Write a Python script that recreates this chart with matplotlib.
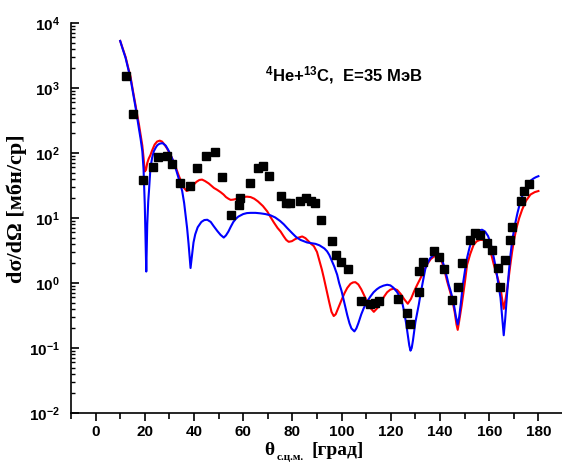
import math
import matplotlib
matplotlib.use("Agg")
import matplotlib.pyplot as plt
from matplotlib.ticker import LogLocator, MultipleLocator, NullFormatter, FuncFormatter

# experimental points (theta c.m., mb/sr)
exp_theta = [12.2, 15.3, 19.1, 23.2, 25.5, 29.1, 30.9, 34.3, 38.3, 41.3, 45.0, 48.4,
             51.2, 55.1, 58.2, 58.9, 62.6, 66.0, 68.1, 70.6, 75.4, 77.6, 79.2, 83.0,
             85.7, 87.4, 89.3, 91.7, 95.9, 97.8, 99.8, 102.4, 107.7, 111.7, 113.4, 115.3,
             122.8, 126.4, 128.0, 131.4, 131.5, 133.2, 137.5, 139.6, 141.5, 144.8, 147.2,
             149.0, 152.1, 154.4, 156.4, 158.9, 161.2, 163.5, 164.3, 166.6, 168.6, 169.3,
             173.0, 174.3, 176.1]
exp_sigma = [1550, 398, 39, 60, 86, 89, 68, 34, 31, 59, 90, 103,
             43, 11, 15.7, 20, 35, 59, 64, 45, 21.6, 17, 17, 18.5,
             20, 18.5, 17, 9.3, 4.5, 2.67, 2.1, 1.62, 0.52, 0.475, 0.49, 0.52,
             0.57, 0.34, 0.23, 0.73, 1.55, 2.1, 3.07, 2.54, 1.62, 0.55, 0.88,
             2.0, 4.6, 5.9, 5.5, 4.1, 3.25, 1.7, 0.86, 2.28, 4.6, 7.3,
             18.5, 25.8, 33]

# blue calculation
blue_theta = [10, 11, 12.2, 13.2, 14.2, 15.2, 16.3, 17, 17.6, 18.3, 19, 19.5, 20, 20.3, 20.6,
              21, 21.4, 21.7, 22.3, 23, 23.7, 24.5, 25.1, 26, 27.2, 28.5, 29.5, 30.5, 31.5,
              32.5, 34, 35.2, 36, 36.6, 37.2, 37.8, 38.6, 39.2, 39.8, 40.5, 41.5, 43, 44.2,
              45.4, 46.8, 48, 49.5, 50.8, 52.1, 53, 54, 55, 56, 57, 58, 60, 61.5, 63, 65, 67,
              69, 71.1, 73, 75, 76.5, 77.9, 80, 81.5, 83.3, 86, 89.4, 91, 92, 93, 94.1, 95,
              96, 97, 98.2, 99, 100, 101, 102.3, 103.2, 104, 105.2, 106, 106.8, 108, 109,
              110.4, 111.7, 113, 114.3, 115.5, 117, 118.5, 119.8, 121, 122.5, 123.9, 124.8,
              125.5, 126.3, 127, 127.5, 128, 128.5, 129, 129.5, 130, 130.7, 131.4, 132.1,
              132.8, 133.5, 134.1, 135, 136, 137.4, 138.8, 140.2, 141.5, 142.9, 143.5, 144.2,
              145, 145.8, 146.5, 147.2, 147.8, 148.5, 149.3, 150.2, 151, 152, 153, 153.7,
              154.5, 155.5, 157.1, 158.3, 159.5, 160.5, 161.2, 161.9, 162.7, 163.5, 164.1,
              164.6, 165.2, 165.9, 166.5, 167, 167.5, 168, 168.6, 169.3, 170.5, 171.5,
              172.7, 173.5, 174.5, 176.1, 177, 178, 179, 180]
blue_sigma = [5300, 4000, 2900, 2000, 1400, 850, 490, 330, 240, 165, 107, 56, 16, 5, 1.5,
              8, 18, 26, 59, 85, 107, 122, 132, 139, 142, 130, 112, 93, 76,
              59, 38, 26, 17, 11, 7, 4.0, 1.7, 2.7, 4.2, 5.6, 7.2, 8.7, 9.3,
              9.4, 8.7, 7.5, 6.3, 5.5, 5.0, 5.4, 6.2, 7.4, 8.7, 9.7, 10.5, 11.5, 11.9, 12, 12, 11.8,
              11.5, 11, 10.2, 9, 8, 7.0, 5.8, 5.1, 4.6, 4.2, 4.0, 3.8, 3.6, 3.4, 3.07, 2.7,
              2.2, 1.8, 1.34, 1.0, 0.75, 0.52, 0.32, 0.24, 0.2, 0.18, 0.2, 0.24, 0.33, 0.41,
              0.52, 0.62, 0.72, 0.8, 0.86, 0.91, 0.94, 0.92, 0.85, 0.73, 0.59, 0.47,
              0.35, 0.23, 0.15, 0.11, 0.091, 0.1, 0.13, 0.18, 0.25, 0.34, 0.47, 0.68,
              0.95, 1.3, 1.7, 2.05, 2.4, 2.7, 2.8, 2.72, 1.9, 1.19, 0.95, 0.78,
              0.6, 0.43, 0.3, 0.23, 0.3, 0.5, 0.95, 1.6, 2.43, 3.5, 4.7, 5.5,
              6.0, 6.4, 6.6, 6.2, 5.3, 4.2, 3.2, 2.43, 1.7, 1.1, 0.78,
              0.59, 0.32, 0.157, 0.28, 0.5, 0.9, 1.5, 2.6, 4.4, 8, 12,
              18, 22, 27, 35, 38, 40.5, 42.5, 44]

# red calculation
red_theta = [10, 11, 12.2, 13.2, 14.2, 15.2, 16.3, 17, 17.6, 18.3, 19, 19.5, 20, 20.5, 21,
             21.6, 22.3, 23, 24, 25, 26.1, 27, 28, 29, 30.5, 31.5, 32.5, 33.8, 35, 36, 37,
             38, 39, 40, 41, 42.2, 43.3, 44.5, 46, 48.1, 49.5, 50.8, 52, 53, 54, 54.9, 56,
             58, 60, 61.5, 63, 64.5, 66, 68, 69.8, 71, 72.5, 74, 75.2, 76.5, 77.5, 78.5,
             79.8, 81, 82.5, 84, 85.3, 86.5, 87.6, 88.7, 90, 91, 92, 92.8, 93.8, 95, 95.9,
             96.8, 97.6, 98.5, 100, 101.2, 102.3, 103.6, 104.6, 105.6, 106.8, 108, 109.3,
             110.5, 111.8, 113.1, 114.5, 116, 117.3, 118.5, 119.8, 121.2, 122.6, 124, 125.5,
             126.9, 128.2, 129.5, 130.8, 132.1, 133.5, 135, 136.3, 137.7, 139, 140.2, 141.5,
             142.9, 144, 145, 146, 146.7, 147.2, 147.8, 148.8, 150, 151, 152.3, 153.7, 155,
             156.3, 157.5, 158.5, 159.5, 160.7, 161.9, 163.3, 164.6, 165.3, 165.9, 166.6,
             167.5, 168.5, 169.3, 170, 171, 172.2, 173.4, 175, 176.8, 178.5, 180]
red_sigma = [5300, 4100, 3000, 2100, 1500, 900, 530, 370, 280, 190, 130, 85, 52, 55, 70,
             82, 93, 110, 135, 150, 155, 150, 135, 118, 93, 76, 62, 45, 35, 29, 26,
             27, 30, 33, 36, 38.5, 39, 37, 34, 29, 27, 25, 23, 21, 19.8, 19, 19.2,
             20, 21, 21.3, 21, 19.8, 18, 15.3, 12.6, 10.5, 8.5, 7, 6.2, 5.2, 4.6, 4.3,
             4.4, 4.7, 5.0, 5.2, 4.9, 4.4, 4.0, 3.7, 3.0, 2.2, 1.6, 1.19, 0.8, 0.5, 0.36,
             0.31, 0.33, 0.4, 0.55, 0.7, 0.84, 0.97, 1.02, 1.03, 0.95, 0.8, 0.63,
             0.5, 0.41, 0.36, 0.41, 0.5, 0.62, 0.72, 0.79, 0.82, 0.78, 0.68, 0.56,
             0.48, 0.57, 0.75, 0.95, 1.19, 1.55, 2.0, 2.35, 2.57, 2.6, 2.43, 1.75,
             1.06, 0.76, 0.55, 0.35, 0.23, 0.19, 0.26, 0.45, 0.95, 1.9, 2.8, 3.9, 4.4,
             4.6, 4.6, 4.3, 3.8, 2.9, 1.9, 1.25, 0.84, 0.55, 0.40, 0.55,
             0.9, 1.8, 3.0, 4.4, 6.8, 10, 13.5, 18.5, 23, 25, 26]

plt.rcParams['mathtext.fontset'] = 'custom'
plt.rcParams['mathtext.rm'] = 'Liberation Sans:bold'
plt.rcParams['mathtext.bf'] = 'Liberation Sans:bold'
plt.rcParams['mathtext.it'] = 'Liberation Sans:bold'

fig = plt.figure(figsize=(5.62, 4.63), dpi=100)
ax = fig.add_axes([0.1263, 0.108, 0.8755, 0.8423])

ax.plot(red_theta, red_sigma, color='#ff0000', lw=1.5, zorder=2)
ax.plot(blue_theta, blue_sigma, color='#0000ff', lw=1.5, zorder=3)
ax.plot(exp_theta, exp_sigma, 's', color='black', ms=6, zorder=4)

ax.set_yscale('log')
ax.set_xlim(-10, 190)
ax.set_ylim(1e-2, 1e4)

ax.spines['top'].set_visible(False)
ax.spines['right'].set_visible(False)
ax.spines['left'].set_linewidth(1.2)
ax.spines['bottom'].set_linewidth(1.2)

ax.xaxis.set_major_locator(MultipleLocator(20))
ax.xaxis.set_minor_locator(MultipleLocator(10))
ax.yaxis.set_major_locator(LogLocator(base=10, numticks=10))
ax.yaxis.set_minor_locator(LogLocator(base=10, subs=range(2, 10), numticks=10))
ax.yaxis.set_minor_formatter(NullFormatter())
ax.yaxis.set_major_formatter(FuncFormatter(lambda v, p: r'10$^{%d}$' % round(math.log10(v))))

ax.tick_params(axis='x', which='major', direction='out', length=6, width=1.2, pad=3)
ax.tick_params(axis='x', which='minor', direction='out', length=4, width=1.2)
ax.tick_params(axis='y', which='major', direction='in', length=6, width=1.2, pad=8)
ax.tick_params(axis='y', which='minor', direction='in', length=3, width=1)
for lab in ax.get_xticklabels():
    lab.set_fontfamily('Liberation Sans')
    lab.set_fontweight('bold')
    lab.set_fontsize(11)
for lab in ax.get_yticklabels():
    lab.set_fontfamily('Liberation Sans')
    lab.set_fontweight('bold')
    lab.set_fontsize(11)

ax.text(69, 10**3.2, r'$^{4}$He+$^{13}$C,  E=35 МэВ', fontsize=12,
        fontweight='bold', family='Liberation Sans', va='center', ha='left')

fig.text(0.03, 0.55, 'dσ/dΩ [мбн/ср]', rotation=90, ha='center', va='center',
         family='Liberation Serif', fontweight='bold', fontsize=16)
fig.text(0.470, 0.028, 'θ', ha='left', va='center',
         family='Liberation Serif', fontweight='bold', fontsize=14)
fig.text(0.492, 0.002, 'с.ц.м.', ha='left', va='bottom',
         family='Liberation Serif', fontweight='bold', fontsize=8)
fig.text(0.555, 0.028, '[град]', ha='left', va='center',
         family='Liberation Serif', fontweight='bold', fontsize=14)

fig.savefig('out.png', dpi=100)
